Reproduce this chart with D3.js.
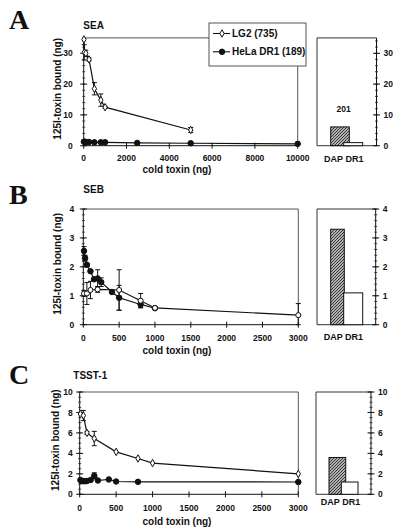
<!DOCTYPE html>
<html><head><meta charset="utf-8">
<script src="https://cdn.jsdelivr.net/npm/d3@7"></script>
<style>body{margin:0;background:#fff} text{font-family:"Liberation Sans",Arial,sans-serif;fill:#111}</style>
</head><body><svg id="c" width="400" height="531"></svg>
<script>
// ---------------- data ----------------
const seriesNames = ["LG2 (735)", "HeLa DR1 (189)"];
const barCats = ["DAP", "DR1"];
const barAxisLabel = "DAP DR1";
const xTitle = "cold toxin (ng)";
const yTitle = "125I-toxin bound (ng)";

// Panel A (SEA)
const xTicksA = [0, 2000, 4000, 6000, 8000, 10000];
const yTicksA = [0, 10, 20, 30];
const lg2A_x = [10, 25, 100, 250, 500, 800, 1000, 5000];
const lg2A_y = [34.5, 30.3, 30, 28, 18.5, 14.8, 12.5, 5.1];
const lg2A_err = [0, 2.5, 1, 0.5, 2, 2, 0.3, 0.8];
const helaA_x = [10, 50, 100, 250, 500, 800, 1000, 2500, 5000, 10000];
const helaA_y = [1.3, 1.3, 1.2, 1.2, 1.1, 1.1, 1.1, 0.9, 0.8, 0.6];
const helaA_err = [0, 0, 0, 0, 0, 0, 0, 0, 0, 0];
const barsA = [6.1, 1.0];
const noteA = "201";

// Panel B (SEB)
const xTicksB = [0, 500, 1000, 1500, 2000, 2500, 3000];
const yTicksB = [0, 1, 2, 3, 4];
const lg2B_x = [10, 50, 100, 200, 500, 800, 1000, 3000];
const lg2B_y = [1.08, 1.08, 1.2, 1.22, 1.2, 0.83, 0.58, 0.33];
const lg2B_err = [0.1, 0.38, 0.3, 0.1, 0.7, 0.25, 0.03, 0.4];
const helaB_x = [10, 25, 50, 100, 150, 200, 250, 400, 500, 800, 1000];
const helaB_y = [2.55, 2.3, 2.07, 1.85, 1.57, 1.6, 1.47, 1.13, 0.93, 0.7, 0.57];
const helaB_err = [0.15, 0.1, 0.05, 0, 0.05, 0.3, 0.15, 0, 0.43, 0.1, 0];
const barsB = [3.3, 1.1];

// Panel C (TSST-1)
const xTicksC = [0, 500, 1000, 1500, 2000, 2500, 3000];
const yTicksC = [0, 2, 4, 6, 8, 10];
const lg2C_x = [10, 50, 100, 200, 500, 800, 1000, 3000];
const lg2C_y = [7.85, 7.7, 6.0, 5.45, 4.15, 3.5, 3.05, 2.0];
const lg2C_err = [0, 0.5, 0.15, 0.7, 0, 0, 0, 0];
const helaC_x = [10, 25, 50, 75, 100, 150, 200, 250, 400, 500, 800, 3000];
const helaC_y = [1.4, 1.3, 1.28, 1.28, 1.3, 1.4, 1.8, 1.35, 1.45, 1.25, 1.22, 1.2];
const helaC_err = [0, 0, 0, 0, 0, 0, 0.3, 0, 0, 0, 0, 0];
const barsC = [3.6, 1.2];

// ---------------- layout / options ----------------
const panels = [
  {letter:"A", title:"SEA", xDomain:[0,10000], yDomain:[0,35], xTicks:xTicksA, yTicks:yTicksA, yMinor:2,
   lg2:{x:lg2A_x,y:lg2A_y,e:lg2A_err}, hela:{x:helaA_x,y:helaA_y,e:helaA_err}, bars:barsA, note:noteA,
   L:{l:83.7,r:297.7,t:37.9,b:145.7, bl:317,br:376.5, bOff:13.7, bStep:13, bW:[18.6,19], yLabOff:11, yTitX:61,
      letterX:9, letterY:29, titleX:83.3, titleY:29, xLab:15, xTit:27, barLabY:16, lg2Sym:"diamond", legend:true, noteY:111.5}},
  {letter:"B", title:"SEB", xDomain:[0,3000], yDomain:[0,4], xTicks:xTicksB, yTicks:yTicksB, yMinor:0.2,
   lg2:{x:lg2B_x,y:lg2B_y,e:lg2B_err}, hela:{x:helaB_x,y:helaB_y,e:helaB_err}, bars:barsB,
   L:{l:83.3,r:298.3,t:209,b:324.7, bl:317,br:375.7, bOff:13.7, bStep:13, bW:[13.6,19], yLabOff:9, yTitX:60.5,
      letterX:9, letterY:204, titleX:83.3, titleY:193, xLab:16, xTit:29, barLabY:15.5, lg2Sym:"circle"}},
  {letter:"C", title:"TSST-1", xDomain:[0,3000], yDomain:[0,10], xTicks:xTicksC, yTicks:yTicksC, yMinor:0.5,
   lg2:{x:lg2C_x,y:lg2C_y,e:lg2C_err}, hela:{x:helaC_x,y:helaC_y,e:helaC_err}, bars:barsC,
   L:{l:79.7,r:298.3,t:392,b:494.3, bl:316,br:371, bOff:13, bStep:12.3, bW:[16.7,16.7], yLabOff:7, yTitX:58.5,
      letterX:9, letterY:383.5, titleX:73.3, titleY:378.5, xLab:17, xTit:30.5, barLabY:11, lg2Sym:"diamond"}}
];

const svg = d3.select("#c");
const defs = svg.append("defs");
const pat = defs.append("pattern").attr("id","hatch").attr("patternUnits","userSpaceOnUse")
  .attr("width",3).attr("height",3);
pat.append("rect").attr("width",3).attr("height",3).attr("fill","#b0b0b0");
pat.append("path").attr("d","M-1,1 L1,-1 M0,3 L3,0 M2,4 L4,2").attr("stroke","#2a2a2a").attr("stroke-width",0.9);

function symbolPath(kind, filled) {
  if (kind === "diamond") return d3.symbol().type(d3.symbolDiamond).size(16)();
  return d3.symbol().type(d3.symbolCircle).size(filled ? 24 : 20)();
}

function yAxisTicks(g, y, ticks, minorStep, domain, x0, side, labOff) {
  const minors = d3.range(domain[0], domain[1] + 1e-9, minorStep);
  g.selectAll(null).data(minors).enter().append("line")
    .attr("x1", x0 - 1.5).attr("x2", x0 + 1.5)
    .attr("y1", d => y(d)).attr("y2", d => y(d)).attr("stroke","#222").attr("stroke-width",0.8);
  g.selectAll(null).data(ticks).enter().append("line")
    .attr("x1", x0 - 3.5).attr("x2", x0 + 3.5)
    .attr("y1", d => y(d)).attr("y2", d => y(d)).attr("stroke","#111").attr("stroke-width",1);
  g.selectAll(null).data(ticks).enter().append("text")
    .attr("x", side === "left" ? x0 - labOff : x0 + 7)
    .attr("y", d => y(d) + 3.1)
    .attr("text-anchor", side === "left" ? "end" : "start")
    .attr("font-size", 8.5).attr("font-weight","bold").text(d => d);
}

panels.forEach(p => {
  const L = p.L;
  const g = svg.append("g");
  const x = d3.scaleLinear().domain(p.xDomain).range([L.l, L.r]);
  const y = d3.scaleLinear().domain(p.yDomain).range([L.b, L.t]);

  g.append("text").attr("x", L.letterX).attr("y", L.letterY)
    .style("font-family",'"Liberation Serif","Times New Roman",serif')
    .attr("font-weight","bold").attr("font-size", 28).text(p.letter);
  g.append("text").attr("x", L.titleX).attr("y", L.titleY).attr("font-size",10).attr("font-weight","bold").text(p.title);

  g.append("path").attr("d", `M${L.l},${L.t} H${L.r} V${L.b}`).attr("fill","none").attr("stroke","#555").attr("stroke-width",1);
  g.append("line").attr("x1",L.l).attr("x2",L.l).attr("y1",L.t).attr("y2",L.b).attr("stroke","#111");
  g.append("line").attr("x1",L.l).attr("x2",L.r).attr("y1",L.b).attr("y2",L.b).attr("stroke","#111");

  yAxisTicks(g, y, p.yTicks, p.yMinor, p.yDomain, L.l, "left", L.yLabOff);

  g.selectAll(null).data(p.xTicks).enter().append("line")
    .attr("x1", d => x(d)).attr("x2", d => x(d)).attr("y1", L.b - 3).attr("y2", L.b + 3)
    .attr("stroke","#111");
  g.selectAll(null).data(p.xTicks).enter().append("text")
    .attr("x", d => x(d)).attr("y", L.b + L.xLab).attr("text-anchor","middle")
    .attr("font-size", 8.5).attr("font-weight","bold").text(d => d);
  g.append("text").attr("x", 177).attr("y", L.b + L.xTit).attr("text-anchor","middle")
    .attr("font-size",10).attr("font-weight","bold").text(xTitle);
  const ym = (L.t + L.b) / 2 - 3;
  g.append("text").attr("transform", `translate(${L.yTitX},${ym}) rotate(-90)`).attr("text-anchor","middle")
    .attr("font-size",10).attr("font-weight","bold").text(yTitle);

  const line = d3.line().x(d => x(d[0])).y(d => y(d[1]));
  [[p.hela, true], [p.lg2, false]].forEach(([s, filled]) => {
    const pts = s.x.map((v, i) => [v, s.y[i], s.e[i]]);
    g.append("path").attr("d", line(pts)).attr("fill","none").attr("stroke","#111").attr("stroke-width",1.2);
    pts.filter(d => d[2] > 0).forEach(d => {
      const cx = x(d[0]), y1 = y(d[1] + d[2]), y2 = y(Math.max(0, d[1] - d[2]));
      g.append("path").attr("d", `M${cx},${y1} V${y2} M${cx-2.5},${y1} H${cx+2.5} M${cx-2.5},${y2} H${cx+2.5}`)
        .attr("stroke","#111").attr("stroke-width",1).attr("fill","none");
    });
    const sym = filled ? symbolPath("circle", true) : symbolPath(L.lg2Sym, false);
    g.selectAll(null).data(pts).enter().append("path").attr("d", sym)
      .attr("transform", d => `translate(${x(d[0])},${y(d[1])})`)
      .attr("fill", filled ? "#111" : "#fff").attr("stroke","#111").attr("stroke-width",1);
  });

  g.append("path").attr("d", `M${L.br},${L.t} H${L.bl} V${L.b} H${L.br}`).attr("fill","none").attr("stroke","#333");
  g.append("line").attr("x1",L.br).attr("x2",L.br).attr("y1",L.t).attr("y2",L.b).attr("stroke","#111");
  yAxisTicks(g, y, p.yTicks, p.yMinor, p.yDomain, L.br, "right", 7);
  const bx = d3.scaleBand().domain(barCats).range([L.bl + L.bOff, L.bl + L.bOff + 2 * L.bStep]).paddingInner(0);
  p.bars.forEach((v, i) => {
    g.append("rect").attr("x", bx(barCats[i])).attr("y", y(v)).attr("width", L.bW[i]).attr("height", y(0) - y(v))
      .attr("fill", i === 0 ? "url(#hatch)" : "#fff").attr("stroke","#111").attr("stroke-width",1);
  });
  g.append("text").attr("x", (L.bl + L.br) / 2 - 3).attr("y", L.b + L.barLabY).attr("text-anchor","middle")
    .attr("font-size", 9).attr("font-weight","bold").text(barAxisLabel);
  if (p.note) {
    g.append("text").attr("x", bx(barCats[1])).attr("y", L.noteY).attr("text-anchor","middle")
      .attr("font-size", 8.5).attr("font-weight","bold").text(p.note);
  }

  if (L.legend) {
    const lg = g.append("g");
    lg.append("rect").attr("x",209).attr("y",23).attr("width",97).attr("height",43)
      .attr("fill","#fff").attr("stroke","#555");
    seriesNames.forEach((nm, i) => {
      const yy = 33.5 + i * 18.3;
      lg.append("line").attr("x1",213).attr("x2",230).attr("y1",yy).attr("y2",yy).attr("stroke","#111").attr("stroke-width",1.1);
      lg.append("path").attr("d", i === 0 ? symbolPath("diamond", false) : symbolPath("circle", true))
        .attr("transform", `translate(222,${yy})`).attr("fill", i === 0 ? "#fff" : "#111").attr("stroke","#111");
      lg.append("text").attr("x",232).attr("y",yy + 3.5).attr("font-size",10).attr("font-weight","bold").text(nm);
    });
  }
});
</script></body></html>
